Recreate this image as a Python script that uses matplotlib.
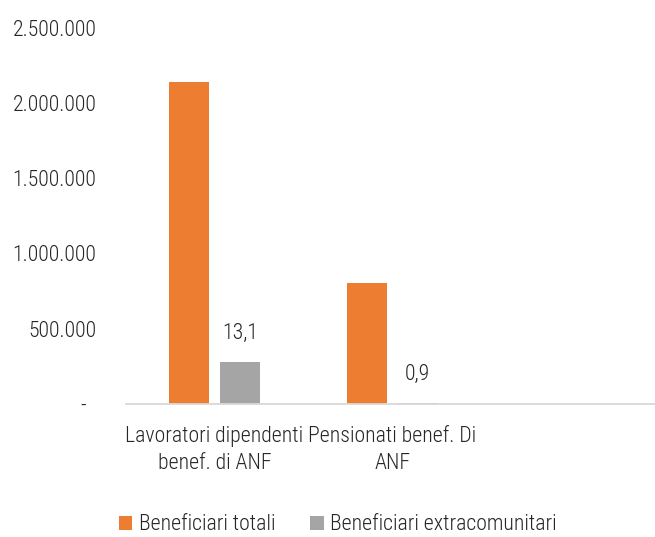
import matplotlib
matplotlib.use("Agg")
import matplotlib.pyplot as plt
from matplotlib import font_manager
from matplotlib.patches import Patch
import numpy as np

categories = ["Lavoratori dipendenti\nbenef. di ANF", "Pensionati benef. Di\nANF", ""]
series_names = ["Beneficiari totali", "Beneficiari extracomunitari"]
totali = [2139000, 801000, 0]
extracomunitari = [280000, 7200, 0]
pct_labels = ["13,1", "0,9", None]
y_ticks = [0, 500000, 1000000, 1500000, 2000000, 2500000]
y_tick_labels = ["-", "500.000", "1.000.000", "1.500.000", "2.000.000", "2.500.000"]

colors = ["#ED7D31", "#A5A5A5"]
text_color = "#262626"
fs = 15.7

installed = {f.name for f in font_manager.fontManager.ttflist}
family = "DejaVu Sans"
for cand in ["Liberation Sans Narrow", "Roboto Condensed", "Open Sans Condensed", "Liberation Sans"]:
    if cand in installed:
        family = cand
        break
plt.rcParams["font.family"] = [family, "DejaVu Sans"]
plt.rcParams["font.weight"] = 300

W, H = 655, 537
fig = plt.figure(figsize=(W / 100, H / 100), dpi=100)
left_px, right_px, top_px, bottom_px = 125.7, 658.5, 27.5, 404
ax = fig.add_axes([left_px / W, 1 - bottom_px / H,
                   (right_px - left_px) / W, (bottom_px - top_px) / H])

x = np.arange(len(categories))
bw = 0.225
off = 0.1436
ax.bar(x[:2] - off, totali[:2], bw, color=colors[0], zorder=2)
ax.bar(x[:2] + off, extracomunitari[:2], bw, color=colors[1], zorder=2)

for xi, v, lab in zip(x, extracomunitari, pct_labels):
    if lab:
        ax.annotate(lab, (xi + off, v), xytext=(0, 13), textcoords="offset points",
                    ha="center", va="bottom", fontsize=fs, color=text_color)

ax.set_xlim(-0.5, 2.5)
ax.set_ylim(0, 2500000)
ax.set_yticks(y_ticks)
ax.set_yticklabels([l if l != "-" else "-  " for l in y_tick_labels])
ax.set_xticks(x)
ax.set_xticklabels(categories, linespacing=1.38)
ax.tick_params(axis="y", length=0, pad=21, labelsize=fs, labelcolor=text_color)
ax.tick_params(axis="x", length=0, pad=15.5, labelsize=fs, labelcolor=text_color)

for s in ["top", "right", "left"]:
    ax.spines[s].set_visible(False)
ax.spines["bottom"].set_color("#D9D9D9")
ax.spines["bottom"].set_linewidth(1.3)

handles = [Patch(facecolor=c, edgecolor="none") for c in colors]
fig.legend(handles, series_names, loc="center", bbox_to_anchor=(338 / W, 1 - 525 / H),
           ncol=2, frameon=False, fontsize=fs, handlelength=0.62, handleheight=0.62,
           handletextpad=0.3, columnspacing=1.6, labelcolor=text_color,
           borderpad=0, borderaxespad=0)

fig.savefig("out.png", dpi=100)
